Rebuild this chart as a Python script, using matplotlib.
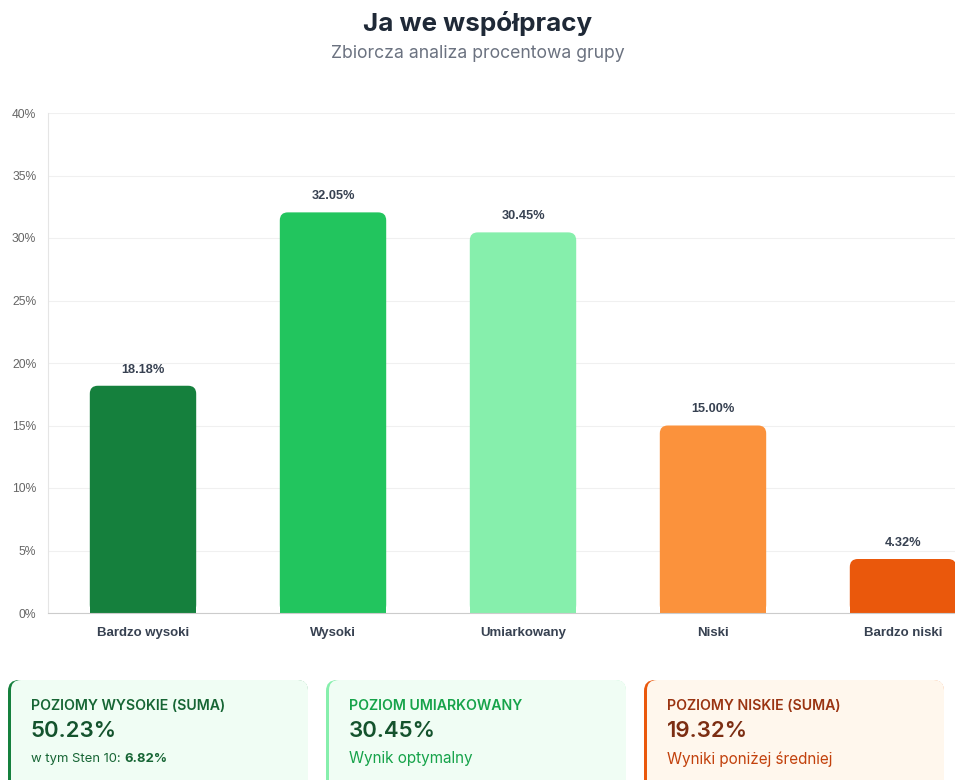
import numpy as np
import matplotlib.pyplot as plt
from matplotlib import font_manager
from matplotlib.patches import FancyBboxPatch, Rectangle

plt.rcParams['font.family'] = ['Inter', 'DejaVu Sans']

# data
categories = ['Bardzo wysoki', 'Wysoki', 'Umiarkowany', 'Niski', 'Bardzo niski']
values = [18.18, 32.05, 30.45, 15.00, 4.32]
bar_colors = ['#15803d', '#22c55e', '#86efac', '#fb923c', '#ea580c']
y_ticks = [0, 5, 10, 15, 20, 25, 30, 35, 40]

card_titles = ['POZIOMY WYSOKIE (SUMA)', 'POZIOM UMIARKOWANY', 'POZIOMY NISKIE (SUMA)']
card_values = ['50.23%', '30.45%', '19.32%']
card_notes = ['w tym Sten 10: ', 'Wynik optymalny', 'Wyniki poniżej średniej']
sten10 = '6.82%'

W, H = 955, 780
fig = plt.figure(figsize=(W / 100, H / 100), dpi=100)


def lib_font(bold, size):
    # pick regular Liberation Sans (not Narrow) by file
    for f in font_manager.fontManager.ttflist:
        if f.name == 'Liberation Sans' and f.style == 'normal' and \
                (f.weight == 700) == bold and 'Narrow' not in f.fname:
            return font_manager.FontProperties(fname=f.fname, size=size)
    return font_manager.FontProperties(family='DejaVu Sans', size=size,
                                       weight='bold' if bold else 'normal')


def fx(px):
    return px / W


def fy(py):
    return 1 - py / H


# chart area (runs past the right edge like the original)
ax = fig.add_axes([fx(48), fy(613), 950 / W, 500 / H])
x = np.arange(len(categories))
bw = 0.56
bars = ax.bar(x, values, width=bw, color=bar_colors)

# swap plain bars for bars with rounded tops
px_x, px_y = 950 / 5, 500 / 40
r = 8 / px_x
asp = px_x / px_y
for b, c in zip(bars, bar_colors):
    x0, w, h = b.get_x(), b.get_width(), b.get_height()
    b.set_visible(False)
    ax.add_patch(FancyBboxPatch((x0, 0), w, h, boxstyle=f'round,pad=0,rounding_size={r}',
                                mutation_aspect=asp, fc=c, ec='none', zorder=2))
    ax.add_patch(Rectangle((x0, 0), w, h / 2, fc=c, ec='none', zorder=2))
    ax.annotate(f'{h:.2f}%', (x0 + w / 2, h), xytext=(0, 10), textcoords='offset pixels',
                ha='center', va='bottom', color='#374151',
                fontproperties=lib_font(True, 9.2))

ax.set_xlim(-0.5, 4.5)
ax.set_ylim(0, 40)
ax.set_yticks(y_ticks)
ax.set_yticklabels([f'{t}%' for t in y_ticks], fontproperties=lib_font(False, 8.7),
                   color='#666666')
ax.set_xticks(x)
ax.set_xticklabels(categories, color='#374151', fontproperties=lib_font(True, 9.5))
ax.tick_params(axis='y', length=0, pad=8.5)
ax.tick_params(axis='x', length=0, pad=10)
ax.grid(axis='y', color='#f0f0f0', lw=0.8, zorder=0)
ax.set_axisbelow(True)
for s in ['top', 'right']:
    ax.spines[s].set_visible(False)
ax.spines['left'].set_color('#e5e5e5')
ax.spines['bottom'].set_color('#cccccc')
ax.spines['left'].set_linewidth(0.8)
ax.spines['bottom'].set_linewidth(0.8)

# titles
fig.text(0.5, fy(23), 'Ja we współpracy', ha='center', va='center', fontsize=18.7,
         fontweight='bold', color='#1f2937')
fig.text(0.5, fy(53), 'Zbiorcza analiza procentowa grupy', ha='center', va='center',
         fontsize=12.7, color='#6b7280')

# summary cards
cards = [
    dict(x=8, border='#15803d', bg='#f0fdf4', tc='#166534', vc='#14532d', nc='#166534'),
    dict(x=326, border='#86efac', bg='#f0fdf4', tc='#16a34a', vc='#14532d', nc='#16a34a'),
    dict(x=644, border='#ea580c', bg='#fff7ed', tc='#9a3412', vc='#7c2d12', nc='#c2410c'),
]
cw, ctop, cbot = 300, 680, 800
for i, c in enumerate(cards):
    fig.add_artist(FancyBboxPatch((fx(c['x']), fy(cbot)), fx(cw), (cbot - ctop) / H,
                                  boxstyle=f'round,pad=0,rounding_size={fx(11)}',
                                  mutation_aspect=W / H, fc=c['border'], ec='none',
                                  transform=fig.transFigure))
    fig.add_artist(FancyBboxPatch((fx(c['x'] + 3), fy(cbot)), fx(cw - 3), (cbot - ctop) / H,
                                  boxstyle=f'round,pad=0,rounding_size={fx(10)}',
                                  mutation_aspect=W / H, fc=c['bg'], ec='none',
                                  transform=fig.transFigure))
    tx = fx(c['x'] + 23)
    fig.text(tx, fy(706), card_titles[i], fontsize=10.2, fontweight='semibold',
             color=c['tc'], va='center')
    fig.text(tx, fy(731), card_values[i], fontsize=16, fontweight='semibold',
             color=c['vc'], va='center')
    t = fig.text(tx, fy(759), card_notes[i], fontsize=9.4 if i == 0 else 11,
                 color=c['nc'], va='center')
    if i == 0:
        fig.canvas.draw()
        bb = t.get_window_extent()
        fig.text(bb.x1 / W, fy(759), sten10, fontsize=9.4, fontweight='bold',
                 color=c['nc'], va='center')

fig.savefig('out.png', dpi=100)
